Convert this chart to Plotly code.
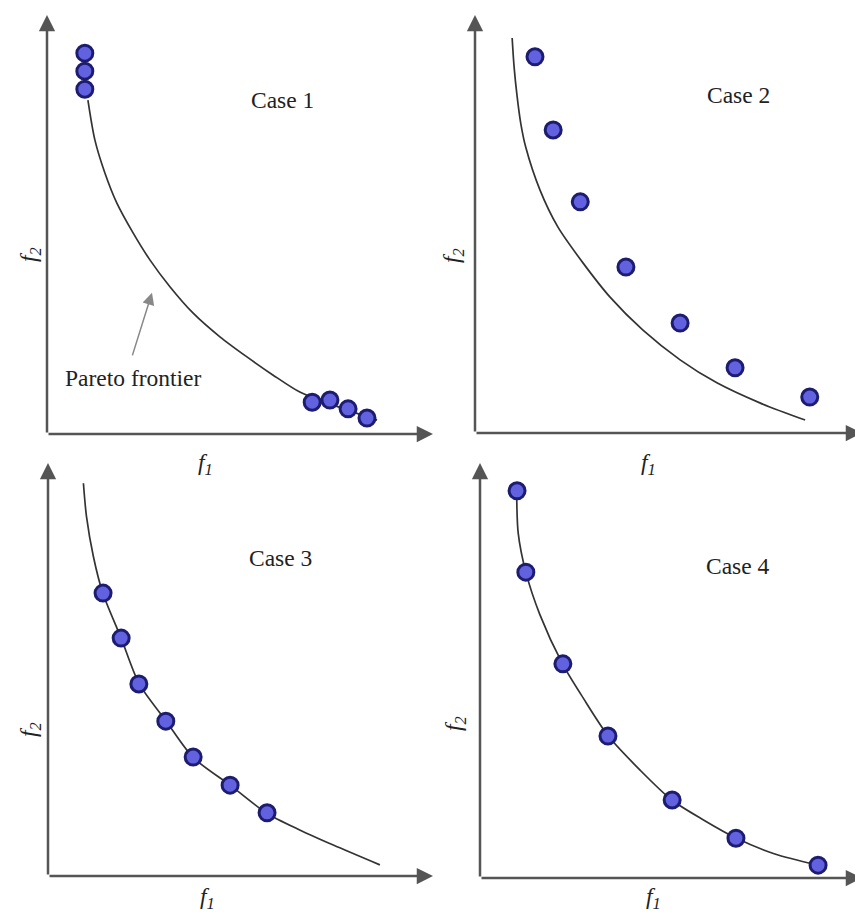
import plotly.graph_objects as go

# page body has an 8px margin: size figure so it fills the window exactly
OFF = 8
W, H = 863 - OFF, 915 - OFF

# ---------------- data (panel units: f1 0..10, f2 0..10) ----------------
case1_curve_f1 = [1.06, 1.24, 1.50, 1.81, 2.23, 2.67, 3.19, 3.78, 4.48, 5.18, 5.85, 6.55, 7.33, 8.55]
case1_curve_f2 = [7.97, 7.02, 6.23, 5.51, 4.80, 4.15, 3.51, 2.89, 2.32, 1.84, 1.41, 1.00, 0.72, 0.33]
case1_pts_f1 = [0.98, 0.98, 0.98, 6.87, 7.33, 7.80, 8.29]
case1_pts_f2 = [9.09, 8.66, 8.23, 0.76, 0.81, 0.60, 0.38]

case2_curve_f1 = [0.96, 1.01, 1.09, 1.18, 1.31, 1.68, 2.14, 2.79, 3.49, 4.34, 5.30, 6.25, 7.36, 8.53]
case2_curve_f2 = [9.45, 8.76, 8.04, 7.42, 6.84, 5.81, 4.93, 4.07, 3.25, 2.46, 1.75, 1.20, 0.72, 0.31]
case2_pts_f1 = [1.55, 2.02, 2.72, 3.90, 5.30, 6.72, 8.65]
case2_pts_f2 = [9.00, 7.25, 5.53, 3.97, 2.63, 1.56, 0.86]

case3_curve_f1 = [0.92, 1.00, 1.18, 1.42, 1.90, 2.37, 3.06, 3.77, 4.73, 5.68, 6.55, 7.41, 8.62]
case3_curve_f2 = [9.51, 8.70, 7.73, 6.86, 5.76, 4.65, 3.76, 2.87, 2.20, 1.52, 1.11, 0.75, 0.27]
case3_pts_f1 = [1.43, 1.90, 2.36, 3.06, 3.77, 4.73, 5.69]
case3_pts_f2 = [6.85, 5.76, 4.65, 3.75, 2.88, 2.20, 1.53]

case4_curve_f1 = [0.96, 1.00, 1.20, 1.57, 2.16, 2.70, 3.36, 4.19, 5.02, 5.85, 6.69, 7.68, 8.84]
case4_curve_f2 = [9.33, 8.31, 7.37, 6.34, 5.16, 4.34, 3.42, 2.60, 1.88, 1.40, 0.97, 0.59, 0.31]
case4_pts_f1 = [0.97, 1.20, 2.17, 3.35, 5.03, 6.70, 8.85]
case4_pts_f2 = [9.33, 7.37, 5.16, 3.42, 1.88, 0.96, 0.31]

case_labels = ["Case 1", "Case 2", "Case 3", "Case 4"]
case_label_pos = [(6.09, 7.97), (6.80, 8.09), (6.03, 7.70), (6.75, 7.52)]
frontier_label = "Pareto frontier"
frontier_label_pos = (2.23, 1.34)
frontier_arrow_head = (2.72, 3.37)
frontier_arrow_tail = (2.20, 1.84)

# ---------------- layout geometry (reference-image pixels) ----------------
# (x origin, x end, y origin, y top)
panels_px = [
    (47, 433, 434, 15),
    (475, 862, 433, 15),
    (48, 433, 876, 463),
    (480, 862, 878, 463),
]
f2_label_px = [(30, 255), (453, 256), (30, 730), (455, 723)]
f1_label_px = [(205, 464), (648, 464), (207, 898), (653, 898)]


def px2paper_x(px):
    return (px - OFF) / W


def px2paper_y(py):
    return 1 - (py - OFF) / H


curves = [
    (case1_curve_f1, case1_curve_f2, case1_pts_f1, case1_pts_f2),
    (case2_curve_f1, case2_curve_f2, case2_pts_f1, case2_pts_f2),
    (case3_curve_f1, case3_curve_f2, case3_pts_f1, case3_pts_f2),
    (case4_curve_f1, case4_curve_f2, case4_pts_f1, case4_pts_f2),
]

SERIF = "Liberation Serif, Times New Roman, serif"
AXIS_COL = "#555555"
TXT = "#222222"
FS = 23.5

fig = go.Figure()
annotations = []
layout_axes = {}

for i, ((x0, x1, y0, y1), (cx, cy, px_, py_)) in enumerate(zip(panels_px, curves)):
    n = "" if i == 0 else str(i + 1)
    xa, ya = "x" + n, "y" + n
    layout_axes["xaxis" + n] = dict(domain=[px2paper_x(x0), px2paper_x(x1)], range=[0, 10],
                                    visible=False, anchor=ya, fixedrange=True)
    layout_axes["yaxis" + n] = dict(domain=[px2paper_y(y0), px2paper_y(y1)], range=[0, 10],
                                    visible=False, anchor=xa, fixedrange=True)

    fig.add_trace(go.Scatter(x=cx, y=cy, mode="lines", xaxis=xa, yaxis=ya,
                             line=dict(color="#333333", width=1.7, shape="spline", smoothing=0.8),
                             hoverinfo="skip", showlegend=False, cliponaxis=False))
    fig.add_trace(go.Scatter(x=px_, y=py_, mode="markers", xaxis=xa, yaxis=ya,
                             marker=dict(size=16, color="#6262e0",
                                         line=dict(color="#1c1c70", width=3)),
                             showlegend=False, cliponaxis=False))

    # axes arrows
    for tip in [(10, 0), (0, 10)]:
        annotations.append(dict(x=tip[0], y=tip[1], ax=0, ay=0, xref=xa, yref=ya,
                                axref=xa, ayref=ya, showarrow=True, arrowhead=2,
                                arrowsize=1.3, arrowwidth=2.5, arrowcolor=AXIS_COL, text=""))
    # case label
    lx, ly = case_label_pos[i]
    annotations.append(dict(x=lx, y=ly, xref=xa, yref=ya, text=case_labels[i], showarrow=False,
                            xanchor="center", yanchor="middle",
                            font=dict(family=SERIF, size=FS, color=TXT)))
    # axis labels
    fx, fy = f1_label_px[i]
    annotations.append(dict(x=px2paper_x(fx), y=px2paper_y(fy), xref="paper", yref="paper",
                            text="<i>f<sub>1</sub></i>", showarrow=False,
                            xanchor="center", yanchor="middle",
                            font=dict(family=SERIF, size=FS, color=TXT)))
    gx, gy = f2_label_px[i]
    annotations.append(dict(x=px2paper_x(gx), y=px2paper_y(gy), xref="paper", yref="paper",
                            text="<i>f<sub>2</sub></i>", showarrow=False, textangle=-90,
                            xanchor="center", yanchor="middle",
                            font=dict(family=SERIF, size=FS, color=TXT)))

# Pareto frontier pointer (panel 1)
annotations.append(dict(x=frontier_arrow_head[0], y=frontier_arrow_head[1],
                        ax=frontier_arrow_tail[0], ay=frontier_arrow_tail[1],
                        xref="x", yref="y", axref="x", ayref="y",
                        showarrow=True, arrowhead=2, arrowsize=1.6, arrowwidth=1.5,
                        arrowcolor="#888888", text=""))
annotations.append(dict(x=frontier_label_pos[0], y=frontier_label_pos[1], xref="x", yref="y",
                        text=frontier_label, showarrow=False, xanchor="center", yanchor="middle",
                        font=dict(family=SERIF, size=FS, color=TXT)))

fig.update_layout(width=W, height=H, margin=dict(l=0, r=0, t=0, b=0),
                  paper_bgcolor="white", plot_bgcolor="white",
                  annotations=annotations, **layout_axes)

fig.write_html("out.html")
